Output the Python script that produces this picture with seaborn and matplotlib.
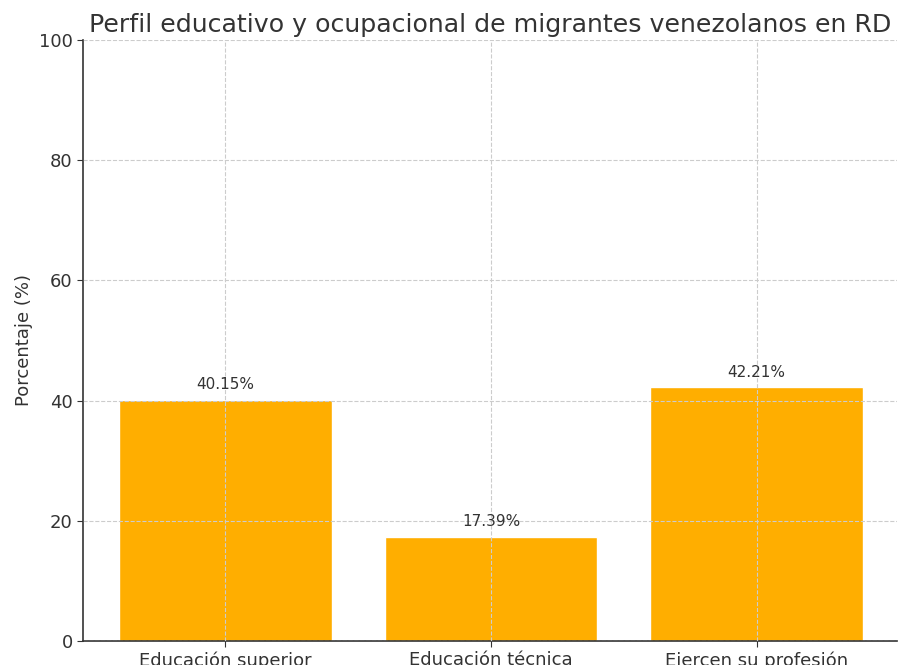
import matplotlib
matplotlib.use("Agg")
import matplotlib.pyplot as plt
import seaborn as sns
import pandas as pd

# datos
categorias = ["Educación superior", "Educación técnica", "Ejercen su profesión"]
porcentajes = [40.15, 17.39, 42.21]

df = pd.DataFrame({"categoria": categorias, "porcentaje": porcentajes})

sns.set_style("white")
plt.rcParams["font.family"] = ["DejaVu Sans"]

fig = plt.figure(figsize=(9.03, 6.65), dpi=100)
ax = fig.add_axes([0.092, 0.036, 0.901, 0.904])

sns.barplot(data=df, x="categoria", y="porcentaje", color="#FFAE00",
            saturation=1, width=0.8, ax=ax)

for i, v in enumerate(porcentajes):
    ax.text(i, v + 1.2, f"{v:.2f}%", ha="center", va="bottom",
            fontsize=11, color="#333333")

ax.set_xlim(-0.535, 2.527)
ax.set_ylim(0, 100)
ax.set_yticks([0, 20, 40, 60, 80, 100])
ax.set_xlabel("")
ax.set_ylabel("Porcentaje (%)", fontsize=13, color="#333333")
ax.set_title("Perfil educativo y ocupacional de migrantes venezolanos en RD",
             fontsize=18.2, color="#333333", pad=6)

ax.grid(True, linestyle="--", color="#cccccc", linewidth=0.8)
ax.set_axisbelow(False)
ax.tick_params(axis="both", labelsize=13, colors="#333333", length=4,
               bottom=True, left=True)
for s in ["top", "right"]:
    ax.spines[s].set_visible(False)
for s in ["left", "bottom"]:
    ax.spines[s].set_color("#333333")
    ax.spines[s].set_linewidth(1.2)

fig.savefig("out.png", dpi=100)
